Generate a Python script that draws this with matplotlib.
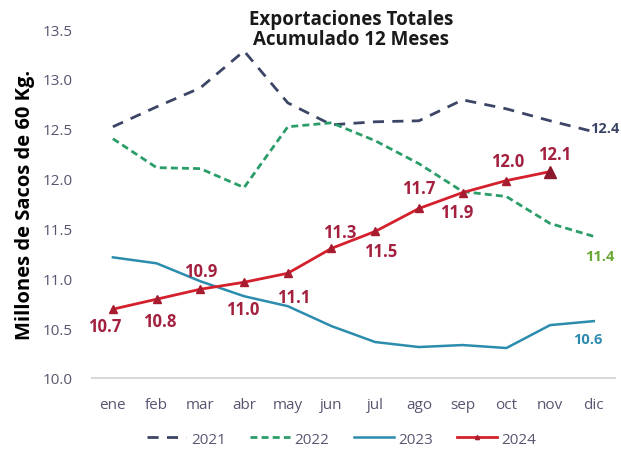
import numpy as np
import matplotlib.pyplot as plt

# ================================================
# Data
# ================================================
meses = ['ene', 'feb', 'mar', 'abr', 'may', 'jun', 'jul', 'ago', 'sep', 'oct', 'nov', 'dic']
y2021 = [12.52, 12.72, 12.91, 13.28, 12.76, 12.54, 12.57, 12.58, 12.79, 12.70, 12.58, 12.47]
y2022 = [12.40, 12.11, 12.10, 11.91, 12.52, 12.56, 12.38, 12.15, 11.87, 11.82, 11.55, 11.42]
y2023 = [11.21, 11.15, 10.97, 10.82, 10.72, 10.52, 10.36, 10.31, 10.33, 10.30, 10.53, 10.57]
y2024 = [10.69, 10.79, 10.89, 10.96, 11.05, 11.30, 11.47, 11.70, 11.86, 11.98, 12.07]
labels2024 = ['10.7', '10.8', '10.9', '11.0', '11.1', '11.3', '11.5', '11.7', '11.9', '12.0', '12.1']

c21 = '#3d4566'
c22 = '#2a9d68'
c23 = '#2b8cae'
c24 = '#d4202c'
clab = '#a3213f'
ctick = '#5a5470'

plt.rcParams['font.family'] = ['Open Sans', 'DejaVu Sans']

fig = plt.figure(figsize=(6.21, 4.56), dpi=100)
ax = fig.add_axes([0.148, 0.169, 0.842, 0.765])

x = np.arange(len(meses))
ax.plot(x, y2021, color=c21, lw=2, ls=(0, (4, 3)), label='2021')
ax.plot(x, y2022, color=c22, lw=2, ls=(0, (2.5, 1.5)), label='2022')
ax.plot(x, y2023, color=c23, lw=1.8, label='2023')
x24 = np.arange(len(y2024))
ax.plot(x24, y2024, color=c24, lw=2, marker='^', ms=6, mfc='#a81c30', mec='#a81c30', label='2024')
ax.plot(x24[-1], y2024[-1], marker='^', ms=8, color='#8a1a2c', ls='none')

# value labels for 2024 (offset in points)
offs = [(-6, -12), (2, -16), (0, 13), (-1, -19), (4, -17), (6, 12),
        (4, -14), (0, 15), (-4, -14), (1, 14), (3, 13)]
for xi, yi, t, (dx, dy) in zip(x24, y2024, labels2024, offs):
    ax.annotate(t, (xi, yi), xytext=(dx, dy), textcoords='offset points',
                ha='center', va='center', color=clab, fontsize=12, fontweight='bold')

# end labels
ax.annotate('12.4', (11, y2021[-1]), xytext=(8, 3), textcoords='offset points',
            ha='center', va='center', color=c21, fontsize=10.5, fontweight='bold')
ax.annotate('11.4', (11, y2022[-1]), xytext=(4, -14), textcoords='offset points',
            ha='center', va='center', color='#6aa832', fontsize=10.5, fontweight='bold')
ax.annotate('10.6', (11, y2023[-1]), xytext=(-4, -13), textcoords='offset points',
            ha='center', va='center', color=c23, fontsize=10.5, fontweight='bold')

ax.set_xlim(-0.48, 11.48)
ax.set_ylim(10.0, 13.5)
ax.set_yticks(np.arange(10.0, 13.51, 0.5))
ax.set_yticklabels([f'{v:.1f}' for v in np.arange(10.0, 13.51, 0.5)])
ax.set_xticks(x)
ax.set_xticklabels(meses)
ax.tick_params(axis='both', length=0, colors=ctick, labelsize=11)
ax.tick_params(axis='x', pad=14)
ax.tick_params(axis='y', pad=14)
for s in ['top', 'right', 'left']:
    ax.spines[s].set_visible(False)
ax.spines['bottom'].set_color('#d9d9d9')
ax.spines['bottom'].set_linewidth(1.5)

ax.set_ylabel('Millones de Sacos de 60 Kg.', fontsize=14.5, fontweight='bold', color='black', labelpad=5)

fig.text(0.565, 0.934, 'Exportaciones Totales\nAcumulado 12 Meses', ha='center', va='center',
         fontsize=13.5, fontweight='bold', color='#1a1a1a', linespacing=1.0)

leg = fig.legend(loc='center', bbox_to_anchor=(0.55, 0.035), ncol=4, frameon=False,
                 fontsize=11, labelcolor=ctick, handlelength=2.6, columnspacing=1.6,
                 handletextpad=0.3, markerscale=0.5)

fig.savefig('out.png', dpi=100)
